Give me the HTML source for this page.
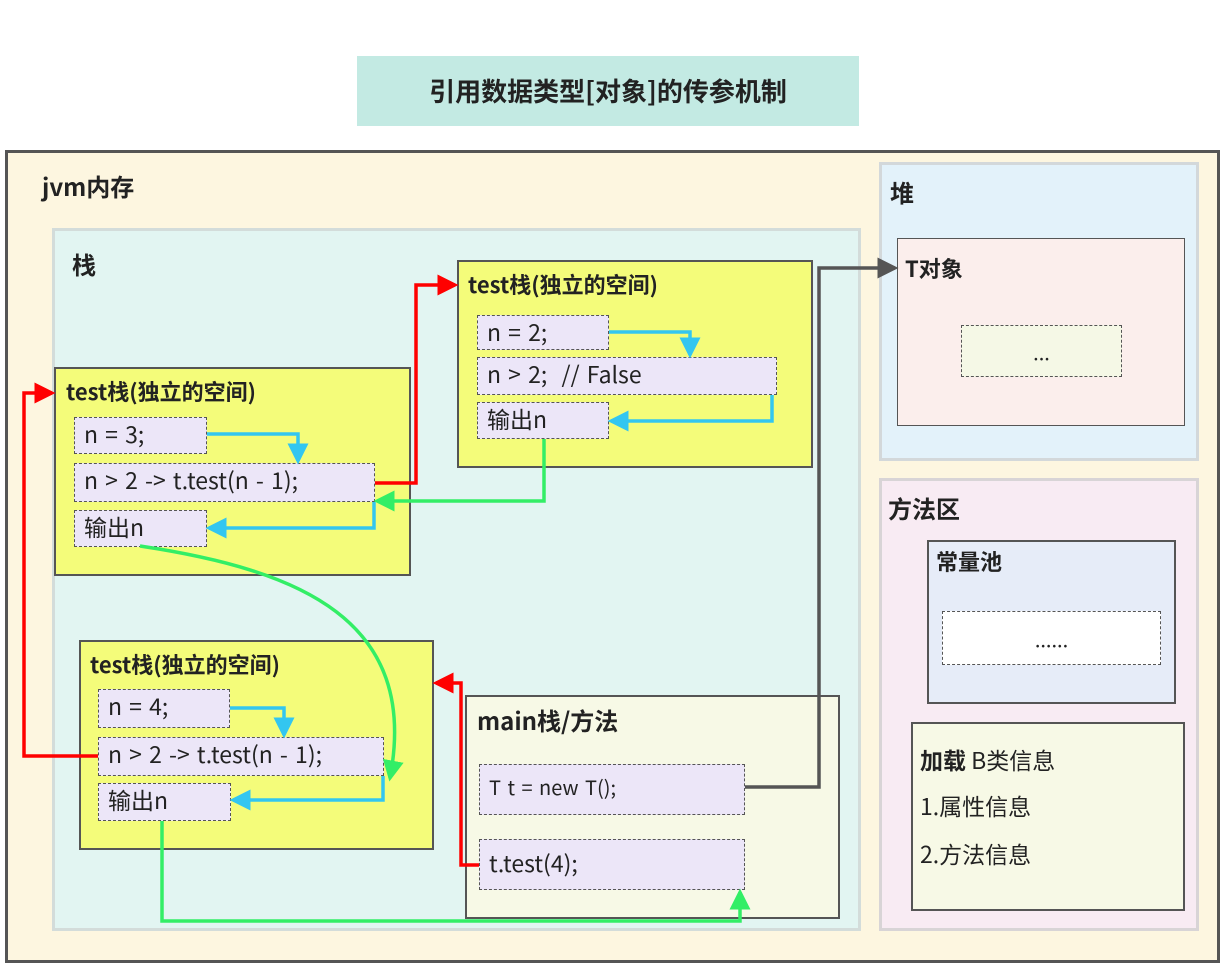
<!DOCTYPE html>
<html><head><meta charset="utf-8"><style>
body{margin:0;width:1224px;height:965px;background:#fff;position:relative;overflow:hidden;font-family:"Noto Sans CJK SC","Liberation Sans",sans-serif;color:#222}
div{position:absolute;box-sizing:border-box}
.y{background:#f4fc7a;border:2px solid #555}
.i{background:#ece6f8;border:1.5px dashed #555;font-size:23px;line-height:1;padding:4px 0 0 9px;white-space:nowrap;word-spacing:2px}
.t{font-weight:bold;font-size:22px;white-space:nowrap;line-height:1.2}
</style></head><body>
<div style="left:357px;top:56px;width:502px;height:70px;background:#c3eae3;font-size:26px;font-weight:bold;text-align:center;line-height:70px">引用数据类型[对象]的传参机制</div>
<div style="left:5px;top:150px;width:1215px;height:813px;background:#fdf6e0;border:3px solid #555"></div>
<div class="t" style="left:42px;top:172px;font-size:24px">jvm内存</div>
<div style="left:52px;top:228px;width:809px;height:703px;background:#e2f5f2;border:3px solid #d3dcda"></div>
<div class="t" style="left:72px;top:250px;font-size:24px">栈</div>
<div style="left:879px;top:162px;width:320px;height:299px;background:#e3f2fa;border:3px solid #d3d8da"></div>
<div class="t" style="left:890px;top:178px;font-size:24px">堆</div>
<div style="left:897px;top:238px;width:288px;height:188px;background:#fbeeec;border:1.5px solid #555"></div>
<div class="t" style="left:905px;top:255px">T对象</div>
<div style="left:961px;top:325px;width:161px;height:52px;background:#f5f8e6;border:1.5px dashed #555;text-align:center;line-height:52px;font-size:20px">...</div>
<div style="left:879px;top:478px;width:320px;height:453px;background:#f8ebf3;border:3px solid #d8d4d6"></div>
<div class="t" style="left:888px;top:494px;font-size:24px">方法区</div>
<div style="left:927px;top:540px;width:249px;height:164px;background:#e6ecf8;border:2px solid #555"></div>
<div class="t" style="left:936px;top:548px">常量池</div>
<div style="left:942px;top:611px;width:219px;height:54px;background:#fff;border:1.5px dashed #555;text-align:center;line-height:54px;font-size:20px">......</div>
<div style="left:911px;top:722px;width:274px;height:189px;background:#f7f9e6;border:2px solid #555"></div>
<div style="left:920px;top:746px;font-size:23px;white-space:nowrap;line-height:1.2"><b>加载</b> B类信息</div>
<div style="left:920px;top:792px;font-size:23px;line-height:1.2">1.属性信息</div>
<div style="left:920px;top:840px;font-size:23px;line-height:1.2">2.方法信息</div>

<div class="y" style="left:457px;top:260px;width:356px;height:208px"></div>
<div class="t" style="left:468px;top:271px">test栈(独立的空间)</div>
<div class="i" style="left:477px;top:315px;width:132px;height:35px">n = 2;</div>
<div class="i" style="left:477px;top:357px;width:300px;height:38px">n &gt; 2;&nbsp; // False</div>
<div class="i" style="left:477px;top:402px;width:132px;height:37px">输出n</div>

<div class="y" style="left:54px;top:367px;width:357px;height:209px"></div>
<div class="t" style="left:66px;top:378px">test栈(独立的空间)</div>
<div class="i" style="left:74px;top:417px;width:133px;height:37px">n = 3;</div>
<div class="i" style="left:74px;top:463px;width:301px;height:39px">n &gt; 2 -&gt; t.test(n - 1);</div>
<div class="i" style="left:74px;top:510px;width:133px;height:37px">输出n</div>

<div class="y" style="left:79px;top:640px;width:355px;height:210px"></div>
<div class="t" style="left:90px;top:651px">test栈(独立的空间)</div>
<div class="i" style="left:98px;top:689px;width:132px;height:39px">n = 4;</div>
<div class="i" style="left:98px;top:737px;width:286px;height:39px">n &gt; 2 -&gt; t.test(n - 1);</div>
<div class="i" style="left:98px;top:783px;width:133px;height:38px">输出n</div>

<div style="left:465px;top:695px;width:375px;height:224px;background:#f7f9e6;border:2px solid #555"></div>
<div class="t" style="left:477px;top:706px;font-size:24px">main栈/方法</div>
<div class="i" style="left:479px;top:764px;width:266px;height:51px;font-size:20px;padding-top:12px">T t = new T();</div>
<div class="i" style="left:479px;top:839px;width:266px;height:51px;padding-top:11px">t.test(4);</div>

<svg width="1224" height="965" style="position:absolute;left:0;top:0" fill="none" stroke-width="3.5">
<defs>
<marker id="r" markerWidth="6" markerHeight="6" refX="5" refY="3" orient="auto" markerUnits="strokeWidth"><path d="M0,0L6,3L0,6z" fill="#f00" stroke="none"/></marker>
<marker id="g" markerWidth="6" markerHeight="6" refX="5" refY="3" orient="auto" markerUnits="strokeWidth"><path d="M0,0L6,3L0,6z" fill="#33ee66" stroke="none"/></marker>
<marker id="bl" markerWidth="6" markerHeight="6" refX="5" refY="3" orient="auto" markerUnits="strokeWidth"><path d="M0,0L6,3L0,6z" fill="#33c6f0" stroke="none"/></marker>
<marker id="k" markerWidth="6" markerHeight="6" refX="5" refY="3" orient="auto" markerUnits="strokeWidth"><path d="M0,0L6,3L0,6z" fill="#555" stroke="none"/></marker>
</defs>
<g stroke="#f00">
<path d="M375,483H416V285H455" marker-end="url(#r)"/>
<path d="M98,756H24V393H52" marker-end="url(#r)"/>
<path d="M479,865H461V683H436" marker-end="url(#r)"/>
</g>
<path d="M745,787H819V268H895" stroke="#555" marker-end="url(#k)"/>
<g stroke="#33c6f0">
<path d="M207,434H298V461" marker-end="url(#bl)"/>
<path d="M374,502V528H209" marker-end="url(#bl)"/>
<path d="M609,332H690V355" marker-end="url(#bl)"/>
<path d="M772,395V421H611" marker-end="url(#bl)"/>
<path d="M230,708H284V735" marker-end="url(#bl)"/>
<path d="M383,776V800H233" marker-end="url(#bl)"/>
</g>
<g stroke="#33ee66">
<path d="M544,439V501H377" marker-end="url(#g)"/>
<path d="M140,546C300,570 420,620 390,778" marker-end="url(#g)"/>
<path d="M162,821V921H740V892" marker-end="url(#g)"/>
</g>
</svg>
</body></html>
